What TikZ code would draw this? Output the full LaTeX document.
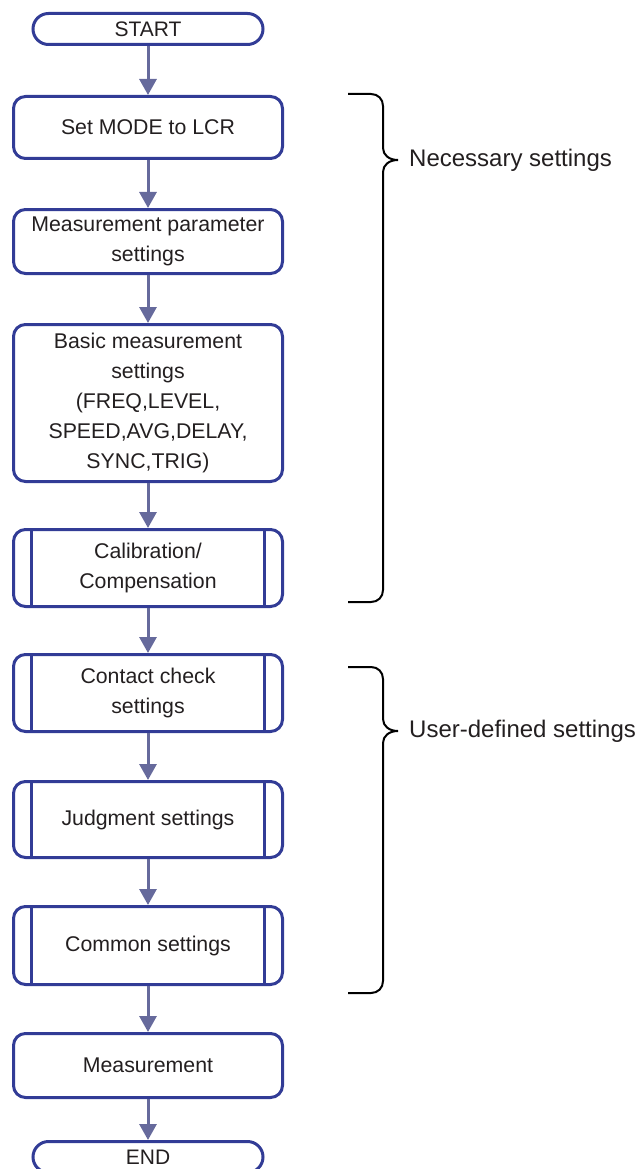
\documentclass[tikz,border=0pt]{standalone}
\usepackage{fontspec}
\setmainfont{Liberation Sans}
\usetikzlibrary{arrows.meta,positioning}
\definecolor{boxblue}{RGB}{50,60,150}
\definecolor{flowgray}{RGB}{102,106,156}
\definecolor{inktext}{RGB}{35,31,32}

\begin{document}
\begin{tikzpicture}[x=1pt, y=-1pt, font=\fontsize{21.3}{30}\selectfont, text=inktext,
      bb/.style={draw=boxblue, line width=3pt, rounded corners=12pt,
                 minimum width=269pt, align=center, inner sep=2pt},
      term/.style={bb, rounded corners=15.5pt, minimum width=230pt,
                 minimum height=31pt, font=\fontsize{21}{24}\selectfont},
      sub/.style={bb, path picture={
          \draw[boxblue, line width=3pt]
            ([xshift=18pt]path picture bounding box.north west) --
            ([xshift=18pt]path picture bounding box.south west);
          \draw[boxblue, line width=3pt]
            ([xshift=-18pt]path picture bounding box.north east) --
            ([xshift=-18pt]path picture bounding box.south east);}},
      flow/.style={-{Triangle[length=16pt,width=17pt]}, line width=3pt, draw=flowgray},
      brace/.style={draw=black, line width=2pt},
      lbl/.style={right, inner sep=0pt, font=\fontsize{24}{28}\selectfont}]
    \useasboundingbox (0,0) rectangle (638,1169);

    \node[term] (start) at (148,29) {START};
    \node[bb, minimum height=62pt, below=49pt of start] (mode) {Set MODE to LCR};
    \node[bb, minimum height=64pt, below=48pt of mode] (param) {Measurement parameter\\settings};
    \node[bb, minimum height=157pt, below=48pt of param] (basic)
      {Basic measurement\\settings\\(FREQ,LEVEL,\\SPEED,AVG,DELAY,\\SYNC,TRIG)};
    \node[sub, minimum height=77pt, below=45pt of basic] (calib) {Calibration/\\Compensation};
    \node[sub, minimum height=77pt, below=45pt of calib] (contact) {Contact check\\settings};
    \node[sub, minimum height=76pt, below=47pt of contact] (judge) {Judgment settings};
    \node[sub, minimum height=78pt, below=46pt of judge] (common) {Common settings};
    \node[bb, minimum height=64pt, below=46pt of common] (meas) {Measurement};
    \node[term, below=41pt of meas] (end) {END};

    \draw[flow] (start) -- (mode);
    \draw[flow] (mode) -- (param);
    \draw[flow] (param) -- (basic);
    \draw[flow] (basic) -- (calib);
    \draw[flow] (calib) -- (contact);
    \draw[flow] (contact) -- (judge);
    \draw[flow] (judge) -- (common);
    \draw[flow] (common) -- (meas);
    \draw[flow] (meas) -- (end);

    % group braces
    \coordinate (necTip) at (398,160);
    \draw[brace] (348,94) -- (371,94) .. controls (378,94) and (383,99) .. (383,106)
      -- (383,148) .. controls (383,155) and (389,160) .. (necTip)
      .. controls (389,160) and (383,165) .. (383,172)
      -- (383,590) .. controls (383,597) and (378,602) .. (371,602) -- (348,602);
    \node[lbl] (necLbl) at ([xshift=11pt]necTip) {Necessary settings};

    \coordinate (userTip) at (398,731);
    \draw[brace] (348,667) -- (371,667) .. controls (378,667) and (383,672) .. (383,679)
      -- (383,719) .. controls (383,726) and (389,731) .. (userTip)
      .. controls (389,731) and (383,736) .. (383,743)
      -- (383,981) .. controls (383,988) and (378,993) .. (371,993) -- (348,993);
    \node[lbl] (userLbl) at ([xshift=11pt]userTip) {User-defined settings};
  \end{tikzpicture}
\end{document}
